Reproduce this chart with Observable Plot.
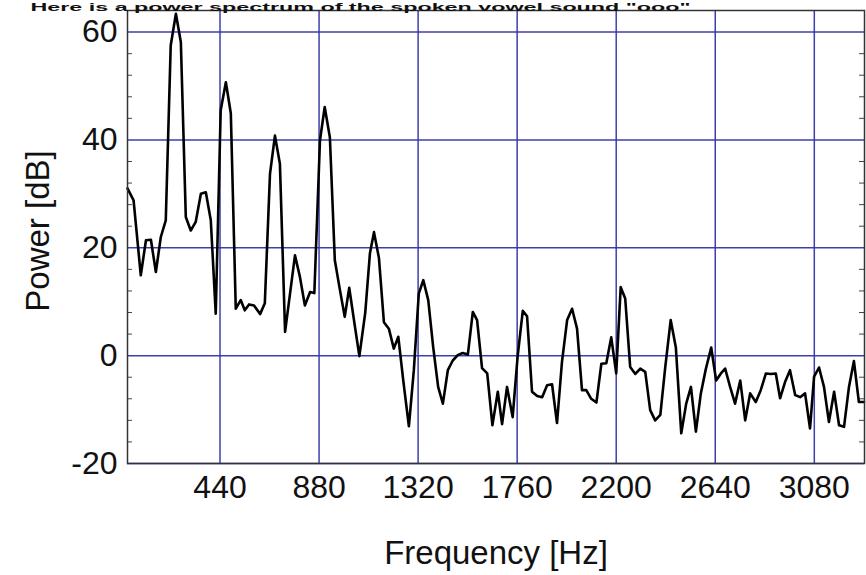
<!DOCTYPE html>
<html>
<head>
<meta charset="utf-8">
<script src="https://cdn.jsdelivr.net/npm/d3@7"></script>
<script src="https://cdn.jsdelivr.net/npm/@observablehq/plot@0.6"></script>
<style>
  html, body { margin: 0; padding: 0; background: #ffffff; }
  #chart { width: 866px; height: 575px; overflow: hidden; }
</style>
</head>
<body>
<div id="chart"></div>
<script>
// Frequency bins (Hz)
const freq = [29,56,88,111,133,155,177,199,221,244,
  266,288,310,332,355,377,399,421,443,466,
  488,510,532,550,569,591,618,639,662,684,
  706,729,751,773,795,817,840,859,884,905,
  928,950,973,994,1014,1035,1059,1085,1106,1124,
  1146,1168,1190,1212,1232,1254,1279,1301,1323,1343,
  1365,1387,1409,1430,1452,1474,1496,1518,1541,1563,
  1582,1604,1627,1650,1674,1693,1715,1740,1762,1785,
  1804,1826,1849,1871,1893,1915,1937,1959,1982,2004,
  2026,2048,2067,2089,2112,2134,2156,2178,2200,2220,
  2240,2262,2285,2307,2329,2351,2373,2396,2418,2442,
  2465,2489,2511,2532,2554,2576,2598,2622,2644,2665,
  2684,2706,2728,2751,2773,2795,2820,2842,2865,2887,
  2909,2928,2950,2972,2995,3017,3039,3061,3079,3101,
  3123,3145,3168,3190,3212,3234,3256,3278,3301];

// Power (dB)
const power = [31.0,28.8,14.9,21.4,21.5,15.5,22.0,25.1,57.5,63.4,
  58.1,25.7,23.2,24.8,30.0,30.3,25.1,7.8,45.5,50.7,
  44.9,8.7,10.3,8.4,9.5,9.3,7.7,9.7,33.7,40.8,
  35.6,4.4,11.5,18.6,14.6,9.3,11.8,11.6,39.9,46.1,
  40.5,17.7,12.1,7.2,12.6,6.6,-0.1,7.9,19.0,22.9,
  18.1,6.2,5.0,1.3,3.5,-4.6,-13.1,-2.7,11.5,14.0,
  10.3,1.6,-5.8,-8.9,-2.7,-0.9,0.1,0.5,0.2,8.1,
  6.6,-2.3,-3.3,-12.9,-6.7,-12.7,-5.8,-11.4,-0.2,8.3,
  7.3,-6.7,-7.5,-7.7,-5.5,-5.3,-12.5,-1.2,6.6,8.7,
  5.0,-6.4,-6.4,-8.0,-8.7,-1.5,-1.4,3.4,-3.3,12.7,
  10.6,-2.1,-3.4,-2.4,-3.0,-10.1,-12.0,-11.0,-2.1,6.6,
  1.5,-14.4,-8.9,-5.8,-14.1,-7.0,-2.5,1.5,-4.6,-3.3,
  -2.4,-5.8,-8.9,-4.6,-12.0,-7.0,-8.6,-6.4,-3.3,-3.4,
  -3.3,-7.9,-4.9,-2.7,-7.3,-7.7,-7.0,-13.5,-3.9,-2.2,
  -5.8,-12.3,-6.7,-12.9,-13.2,-5.8,-1.0,-8.6,-8.6];

const xTicks = [440, 880, 1320, 1760, 2200, 2640, 3080];
const yTicks = [-20, 0, 20, 40, 60];
const yMinorTicks = [-16, -12, -8, -4, 4, 8, 12, 16, 24, 28, 32, 36, 44, 48, 52, 56];
const xDomain = [29, 3303];
const yDomain = [-20, 64];

const titleText = "Here is a power spectrum of the spoken vowel sound \"ooo\"";
const xLabel = "Frequency [Hz]";
const yLabel = "Power [dB]";

const data = freq.map((f, i) => ({f, p: power[i]}));

const gridColor = "#3535a8";
const font = "'Liberation Sans', Arial, sans-serif";

const chart = Plot.plot({
  width: 866,
  height: 575,
  marginLeft: 127,
  marginRight: 2,
  marginTop: 10,
  marginBottom: 112,
  style: {fontFamily: font, background: "#ffffff", color: "#111"},
  x: {domain: xDomain},
  y: {domain: yDomain},
  marks: [
    Plot.gridX(xTicks, {stroke: gridColor, strokeOpacity: 0.95, strokeWidth: 1.5}),
    Plot.gridY(yTicks, {stroke: gridColor, strokeOpacity: 0.95, strokeWidth: 1.5}),
    Plot.ruleY(yMinorTicks, {x1: xDomain[0], x2: xDomain[0] + 22, stroke: "#444", strokeWidth: 1}),
    Plot.ruleY(yMinorTicks, {x1: xDomain[1] - 22, x2: xDomain[1], stroke: "#444", strokeWidth: 1}),
    Plot.line(data, {x: "f", y: "p", stroke: "#000", strokeWidth: 2.6, strokeLinejoin: "round"}),
    Plot.frame({stroke: "#333", strokeWidth: 1.5}),
    Plot.axisX(xTicks, {anchor: "bottom", tickSize: 0, tickPadding: 12, fontSize: 32, label: null, fill: "#111", tickFormat: d => String(d)}),
    Plot.axisY(yTicks, {anchor: "left", tickSize: 0, tickPadding: 10, fontSize: 32, label: null, fill: "#111", tickFormat: d => String(d)}),
    Plot.text([xLabel], {frameAnchor: "bottom", lineAnchor: "middle", textAnchor: "middle", dy: 90, fontSize: 33, fill: "#111"}),
    Plot.text([yLabel], {frameAnchor: "left", textAnchor: "middle", lineAnchor: "middle", dx: -89, dy: -6, rotate: -90, fontSize: 33, fill: "#111"}),
    Plot.text([titleText], {frameAnchor: "top-left", textAnchor: "start", lineAnchor: "bottom", dx: -97, dy: 0, fontSize: 11, fontWeight: "bold", fill: "#111"})
  ]
});

// stretch the (partly hidden) title to the width it spans in the reference
d3.select(chart).selectAll("text").each(function() {
  if (this.textContent === titleText) {
    this.setAttribute("textLength", 660);
    this.setAttribute("lengthAdjust", "spacingAndGlyphs");
  }
});

document.getElementById("chart").appendChild(chart);
</script>
</body>
</html>
